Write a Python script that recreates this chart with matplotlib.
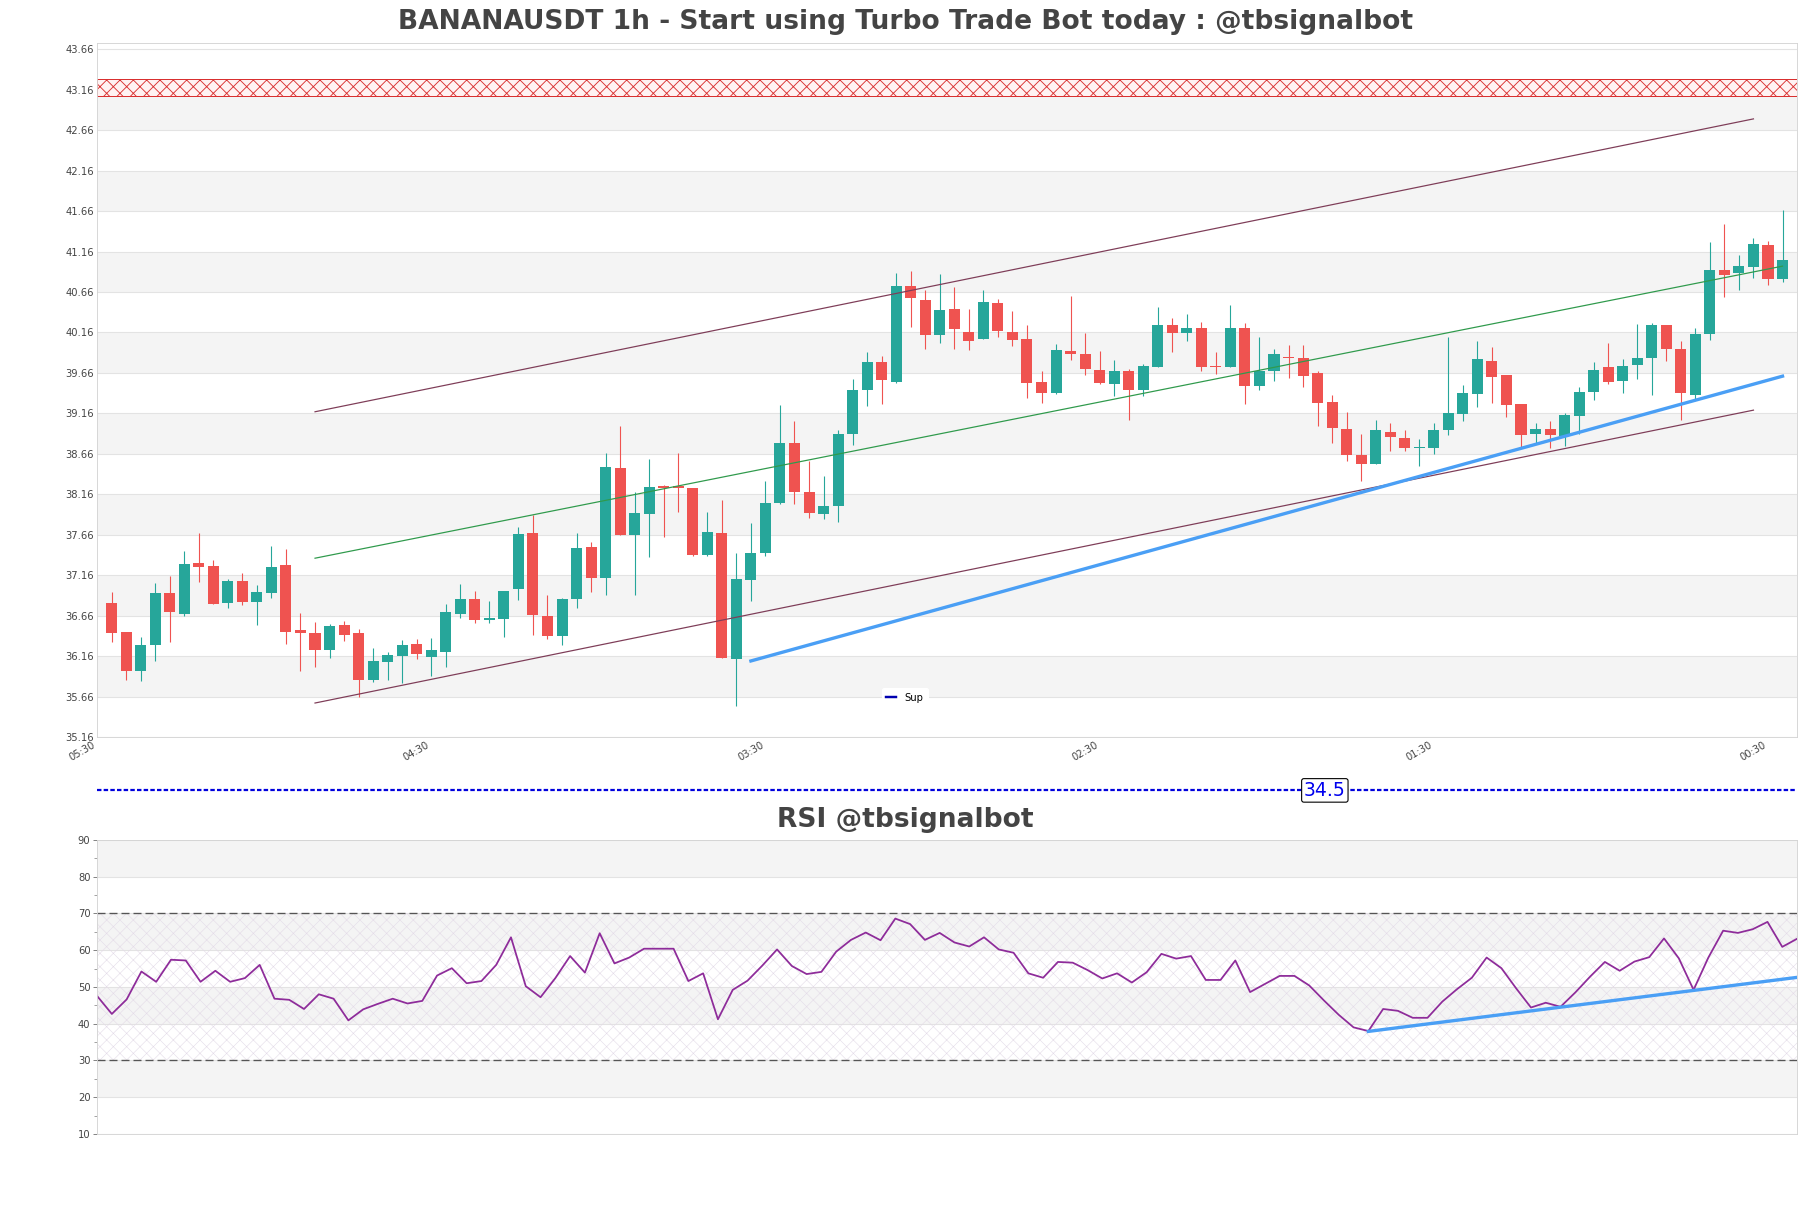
import numpy as np
import matplotlib.pyplot as plt
from matplotlib.lines import Line2D

plt.rcParams['hatch.linewidth'] = 0.8

# ---- candle data (1h) ----
opens = [36.82, 36.46, 35.97, 36.30, 36.94, 36.68, 37.31, 37.27, 36.82, 37.09,
         36.83, 36.94, 37.28, 36.48, 36.44, 36.23, 36.54, 36.44, 35.87, 36.09,
         36.16, 36.31, 36.15, 36.21, 36.68, 36.86, 36.60, 36.62, 36.99, 37.68,
         36.65, 36.41, 36.86, 37.51, 37.13, 38.49, 37.66, 37.92, 38.26, 38.26,
         38.24, 37.41, 37.68, 36.13, 37.10, 37.44, 38.05, 38.80, 38.19, 37.92,
         38.02, 38.91, 39.45, 39.80, 39.55, 40.74, 40.56, 40.13, 40.45, 40.16,
         40.08, 40.53, 40.16, 40.08, 39.55, 39.41, 39.93, 39.90, 39.70, 39.52,
         39.69, 39.45, 39.73, 40.25, 40.15, 40.22, 39.74, 39.73, 40.21, 39.50,
         39.68, 39.86, 39.85, 39.66, 39.30, 38.97, 38.64, 38.53, 38.93, 38.85,
         38.73, 38.73, 38.95, 39.15, 39.40, 39.81, 39.63, 39.27, 38.91, 38.97,
         38.88, 39.13, 39.42, 39.73, 39.56, 39.76, 39.84, 40.25, 39.96, 39.39,
         40.14, 40.93, 40.89, 40.97, 41.24, 40.82]
highs = [36.95, 36.46, 36.40, 37.06, 37.15, 37.46, 37.68, 37.35, 37.11, 37.19,
         37.04, 37.52, 37.48, 36.69, 36.58, 36.56, 36.59, 36.49, 36.26, 36.21,
         36.36, 36.37, 36.38, 36.80, 37.05, 36.96, 36.84, 36.97, 37.76, 37.90,
         36.91, 36.88, 37.68, 37.57, 38.67, 39.00, 38.19, 38.60, 38.28, 38.67,
         38.24, 37.94, 38.09, 37.43, 37.81, 38.33, 39.26, 39.07, 38.57, 38.38,
         38.95, 39.58, 39.92, 39.87, 40.90, 40.92, 40.68, 40.88, 40.72, 40.45,
         40.68, 40.57, 40.42, 40.25, 39.68, 40.02, 40.61, 40.15, 39.93, 39.82,
         39.71, 39.77, 40.47, 40.34, 40.39, 40.29, 39.92, 40.50, 40.28, 40.10,
         39.96, 40.00, 40.00, 39.69, 39.39, 39.18, 38.91, 39.08, 39.04, 38.96,
         38.84, 39.04, 40.11, 39.51, 40.06, 39.98, 39.63, 39.28, 39.04, 39.06,
         39.16, 39.49, 39.80, 40.03, 39.83, 40.27, 40.28, 40.25, 40.06, 40.22,
         41.28, 41.50, 41.12, 41.33, 41.29, 41.68]
lows = [36.33, 35.86, 35.85, 36.10, 36.34, 36.65, 37.08, 36.81, 36.76, 36.79,
        36.54, 36.88, 36.31, 35.98, 36.03, 36.14, 36.35, 35.65, 35.84, 35.86,
        35.83, 36.12, 35.92, 36.02, 36.63, 36.57, 36.57, 36.39, 36.85, 36.42,
        36.37, 36.30, 36.75, 36.95, 36.91, 37.66, 36.92, 37.38, 37.63, 37.94,
        37.40, 37.40, 36.14, 35.54, 36.84, 37.40, 38.04, 38.04, 37.87, 37.85,
        37.82, 38.77, 39.25, 39.28, 39.53, 40.23, 39.95, 40.03, 39.96, 39.94,
        40.08, 40.10, 39.99, 39.35, 39.29, 39.40, 39.82, 39.63, 39.52, 39.37,
        39.08, 39.37, 39.73, 39.92, 40.06, 39.68, 39.65, 39.73, 39.28, 39.45,
        39.56, 39.60, 39.49, 39.01, 38.79, 38.57, 38.33, 38.53, 38.70, 38.69,
        38.51, 38.66, 38.89, 39.07, 39.24, 39.29, 39.12, 38.74, 38.80, 38.73,
        38.76, 38.90, 39.32, 39.52, 39.41, 39.58, 39.39, 39.81, 39.08, 39.33,
        40.07, 40.60, 40.69, 40.83, 40.75, 40.79]
closes = [36.45, 35.98, 36.30, 36.94, 36.70, 37.30, 37.26, 36.81, 37.09, 36.83,
          36.95, 37.26, 36.46, 36.45, 36.23, 36.53, 36.42, 35.87, 36.10, 36.17,
          36.30, 36.18, 36.23, 36.70, 36.86, 36.60, 36.63, 36.96, 37.67, 36.67,
          36.41, 36.86, 37.50, 37.13, 38.50, 37.66, 37.93, 38.25, 38.24, 38.24,
          37.41, 37.69, 36.14, 37.11, 37.44, 38.05, 38.79, 38.19, 37.93, 38.02,
          38.90, 39.45, 39.80, 39.57, 40.74, 40.58, 40.13, 40.44, 40.20, 40.05,
          40.54, 40.18, 40.07, 39.54, 39.41, 39.94, 39.90, 39.71, 39.53, 39.69,
          39.45, 39.75, 40.25, 40.15, 40.22, 39.73, 39.73, 40.21, 39.50, 39.69,
          39.89, 39.84, 39.62, 39.29, 38.98, 38.64, 38.54, 38.95, 38.87, 38.73,
          38.74, 38.96, 39.17, 39.41, 39.83, 39.61, 39.26, 38.89, 38.97, 38.89,
          39.14, 39.43, 39.70, 39.55, 39.75, 39.85, 40.25, 39.95, 39.41, 40.14,
          40.93, 40.87, 40.98, 41.25, 40.82, 41.06]

rsi = [47.55, 42.65, 46.6, 54.2, 51.4, 57.4, 57.2, 51.4, 54.4, 51.4,
       52.4, 56.0, 46.8, 46.5, 44.0, 48.0, 46.8, 40.9, 43.9, 45.4,
       46.8, 45.5, 46.2, 53.1, 55.1, 51.0, 51.6, 56.0, 63.5, 50.2,
       47.2, 52.4, 58.4, 53.9, 64.6, 56.4, 58.0, 60.4, 60.4, 60.4,
       51.6, 53.7, 41.2, 49.2, 51.7, 55.8, 60.2, 55.7, 53.5, 54.1,
       59.6, 62.8, 64.8, 62.7, 68.6, 67.1, 62.8, 64.7, 62.1, 61.0,
       63.5, 60.2, 59.3, 53.7, 52.5, 56.8, 56.6, 54.6, 52.3, 53.7,
       51.2, 54.0, 59.0, 57.7, 58.4, 51.9, 51.9, 57.2, 48.6, 50.8,
       53.0, 53.0, 50.4, 46.3, 42.4, 39.0, 38.0, 44.0, 43.5, 41.6,
       41.6, 46.0, 49.4, 52.5, 58.0, 55.1, 49.6, 44.4, 45.7, 44.6,
       48.5, 52.8, 56.8, 54.4, 56.9, 58.1, 63.2, 57.8, 49.2, 58.0,
       65.3, 64.7, 65.7, 67.7, 60.9, 63.1]

# trend lines (candle index, price)
upper_x, upper_y = [14, 113], [39.18, 42.80]
lower_x, lower_y = [14, 113], [35.58, 39.20]
mid_x, mid_y = [14, 115], [37.37, 40.98]
sup_x, sup_y = [44, 115], [36.10, 39.62]
rsi_sup_x, rsi_sup_y = [86, 115], [37.9, 52.6]
sup_level = 34.5
resist_zone = (43.08, 43.29)

xtick_pos = [-1, 22, 45, 68, 91, 114]
xtick_labels = ['05:30', '04:30', '03:30', '02:30', '01:30', '00:30']
price_ticks = [35.16 + 0.5 * k for k in range(18)]

GREEN, RED = '#26a69a', '#ef5350'
GRID, BAND, SPINE, TXT = '#e3e3e3', '#f4f4f4', '#d4d4d4', '#444444'

fig = plt.figure(figsize=(1811 / 80, 1208 / 80), dpi=80)
ax = fig.add_axes([0.0536, 0.3899, 0.9387, 0.5743])
ax2 = fig.add_axes([0.0536, 0.0613, 0.9387, 0.2434])

# ---- main candle chart ----
o, h, l, c = map(np.array, (opens, highs, lows, closes))
x = np.arange(len(o))
up = c >= o
cols = np.where(up, GREEN, RED)
body_lo = np.minimum(o, c)
body_h = np.maximum(np.abs(c - o), 0.012)

for k in range(len(price_ticks) - 1):
    if k % 2 == 1:
        ax.axhspan(price_ticks[k], price_ticks[k + 1], color=BAND, lw=0, zorder=0)
for t in price_ticks:
    ax.axhline(t, color=GRID, lw=1, zorder=0.5)

ax.axhspan(*resist_zone, facecolor='#fff2f2', edgecolor='#d93030',
           hatch='xx', lw=0.9, zorder=1)

ax.vlines(x, l, h, color=cols, lw=1.0, zorder=2)
ax.bar(x, body_h, bottom=body_lo, width=0.76, color=cols, lw=0, zorder=2.1)

ax.plot(upper_x, upper_y, color='#7e3d58', lw=1.1, zorder=3)
ax.plot(lower_x, lower_y, color='#7e3d58', lw=1.1, zorder=3)
ax.plot(mid_x, mid_y, color='#2f9a4c', lw=1.1, zorder=3)
ax.plot(sup_x, sup_y, color='#4a9ff5', lw=3, zorder=3.5)

ax.axhline(sup_level, color='#0000dd', lw=2.0, ls=(0, (2, 1)),
           clip_on=False, zorder=4)
ax.text(83.5, sup_level, '34.5', color='#0000ee', fontsize=17,
        ha='center', va='center', clip_on=False, zorder=5,
        bbox=dict(boxstyle='round,pad=0.12', fc='white', ec='black', lw=1))

ax.set_xlim(-1, len(o))
ax.set_ylim(35.165, 43.735)
ax.set_yticks(price_ticks)
ax.set_yticklabels([f'{t:.2f}' for t in price_ticks])
ax.set_xticks(xtick_pos)
ax.set_xticklabels(xtick_labels, rotation=30, ha='right')
ax.tick_params(axis='both', length=0, labelsize=9, labelcolor=TXT, pad=3)
for s in ax.spines.values():
    s.set_color(SPINE)

sup_handle = Line2D([], [], color='#0000b0', lw=2.2)
ax.legend([sup_handle], ['Sup'], loc='lower center', bbox_to_anchor=(0.475, 0.036),
          fontsize=9, handlelength=1.0, frameon=True, framealpha=1,
          edgecolor='white', facecolor='white', borderpad=0.45)

# ---- RSI ----
rsi_ticks = list(range(10, 100, 10))
for k in range(len(rsi_ticks) - 1):
    if k % 2 == 1:
        ax2.axhspan(rsi_ticks[k], rsi_ticks[k + 1], color=BAND, lw=0, zorder=0)
for t in rsi_ticks:
    ax2.axhline(t, color=GRID, lw=1, zorder=0.5)
plt.rcParams['hatch.linewidth'] = 0.5
ax2.axhspan(30, 70, facecolor='none', edgecolor='#e4dbe8', hatch='xx', lw=0, zorder=0.8)
ax2.axhline(70, color='#555555', lw=1.2, ls=(0, (6, 3)), zorder=1)
ax2.axhline(30, color='#555555', lw=1.2, ls=(0, (6, 3)), zorder=1)

xr = np.arange(len(rsi))
ax2.plot(xr, rsi, color='#8e2c9a', lw=1.6, zorder=2)
ax2.plot(rsi_sup_x, rsi_sup_y, color='#4a9ff5', lw=3, zorder=3)

ax2.set_xlim(0, len(rsi) - 1)
ax2.set_ylim(10, 90)
ax2.set_yticks(rsi_ticks)
ax2.set_yticks(list(range(15, 90, 10)), minor=True)
ax2.set_xticks([])
ax2.tick_params(axis='y', which='major', length=4, color='#777777',
                labelsize=9, labelcolor=TXT, pad=2)
ax2.tick_params(axis='y', which='minor', length=3, color='#777777')
for s in ax2.spines.values():
    s.set_color(SPINE)

fig.text(0.5, 1 - 22 / 1208, 'BANANAUSDT 1h - Start using Turbo Trade Bot today : @tbsignalbot',
         ha='center', va='center', fontsize=23.8, fontweight='bold', color=TXT)
fig.text(0.5, 1 - 820 / 1208, 'RSI @tbsignalbot',
         ha='center', va='center', fontsize=23.8, fontweight='bold', color=TXT)

fig.savefig('out.png', dpi=80, facecolor='white')
